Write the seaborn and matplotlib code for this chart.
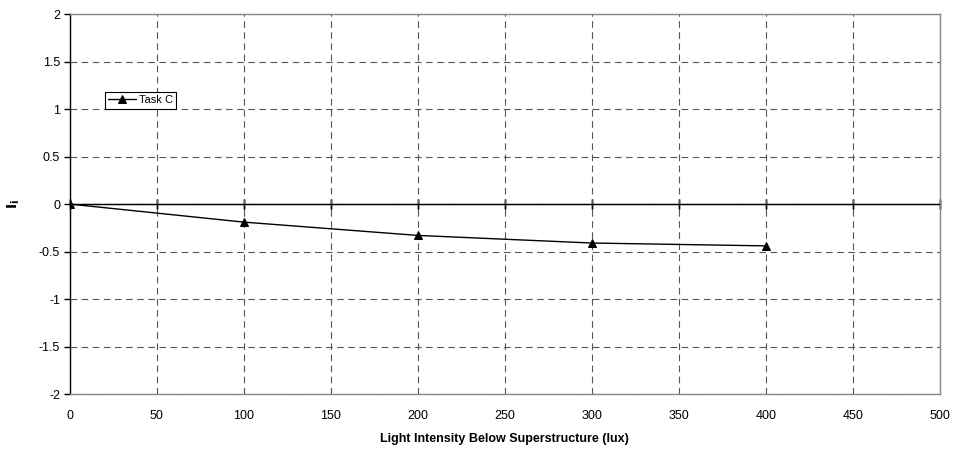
import numpy as np
import pandas as pd
import matplotlib
matplotlib.use('Agg')
import matplotlib.pyplot as plt
import seaborn as sns

# values
light_lux = [0, 100, 200, 300, 400]
task_c = [0.0, -0.19, -0.33, -0.41, -0.44]

df = pd.DataFrame({'lux': light_lux, 'Ii': task_c})

sns.set_style('white')
plt.rcParams['font.family'] = ['Liberation Sans', 'DejaVu Sans']
plt.rcParams['text.color'] = 'black'
plt.rcParams['axes.labelcolor'] = 'black'
plt.rcParams['xtick.color'] = 'black'
plt.rcParams['ytick.color'] = 'black'

fig = plt.figure(figsize=(9.56, 4.54), dpi=100)
ax = fig.add_axes([0.073, 0.132, 0.910, 0.837])

sns.lineplot(data=df, x='lux', y='Ii', marker='^', color='black', linewidth=1,
             markersize=6, markeredgecolor='black', label='Task C', ax=ax, zorder=5)

ax.set_xlim(0, 500)
ax.set_ylim(-2, 2)
ax.set_xticks(np.arange(0, 501, 50))
ax.set_yticks(np.arange(-2, 2.01, 0.5))
ax.set_yticklabels(['-2', '-1.5', '-1', '-0.5', '0', '0.5', '1', '1.5', '2'])
ax.grid(True, color='#555555', linestyle=(0, (6, 4)), linewidth=0.8)

for s in ['top', 'right', 'bottom']:
    ax.spines[s].set_color('#888888')
    ax.spines[s].set_linewidth(1)
ax.spines['left'].set_color('black')
ax.spines['left'].set_linewidth(1)

ax.tick_params(axis='y', left=True, length=4, width=1, labelsize=9, pad=3)
ax.tick_params(axis='x', bottom=False, labelsize=9, pad=8)

# zero line with tick marks, like the excel x axis crossing at 0
ax.axhline(0, color='black', linewidth=1, zorder=3)
sec = ax.secondary_xaxis(0.5)
sec.set_xticks(np.arange(0, 501, 50))
sec.set_xticklabels([])
sec.tick_params(axis='x', bottom=True, direction='inout', length=7, width=1, color='black')
sec.spines['bottom'].set_color('black')

ax.set_xlabel('Light Intensity Below Superstructure (lux)', fontsize=9, fontweight='bold', labelpad=8)
ax.set_ylabel(r'$\mathbf{I_i}$', fontsize=10, labelpad=12)

leg = ax.legend(loc='upper left', bbox_to_anchor=(0.04, 0.795), fontsize=8,
                frameon=True, fancybox=False, framealpha=1, borderpad=0.3,
                handlelength=2.5, handletextpad=0.3, borderaxespad=0)
leg.get_frame().set_edgecolor('black')
leg.get_frame().set_linewidth(0.8)

fig.savefig('out.png', dpi=100)
